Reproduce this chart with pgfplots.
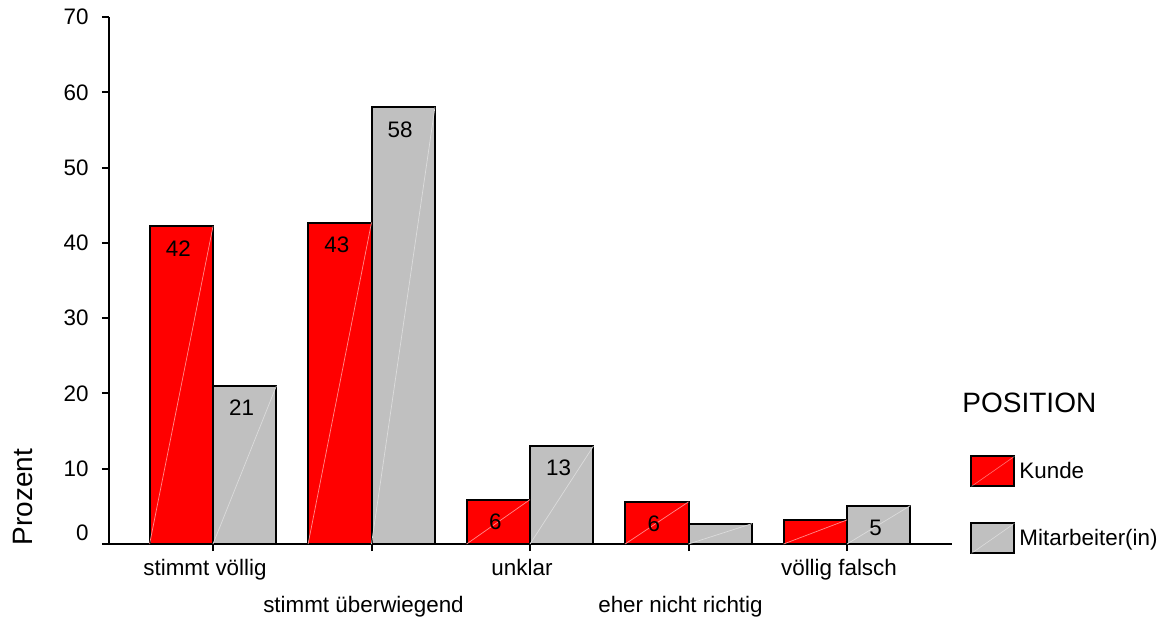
\documentclass[border=0pt]{standalone}
\usepackage{fontspec}
\setmainfont{Liberation Sans}
\usepackage{pgfplots}
\usepackage{pgfplotstable}
\pgfplotsset{compat=1.18}

\definecolor{kunde}{RGB}{255,0,0}
\definecolor{mitarb}{RGB}{192,192,192}

% Prozent je Antwortkategorie (0 = stimmt völlig ... 4 = völlig falsch)
\pgfplotstableread{
x y
0 42.2
1 42.7
2 5.9
3 5.6
4 3.2
}\kunde
\pgfplotstableread{
x y
0 21.0
1 58.0
2 13.0
3 2.7
4 5.1
}\mitarbeiter

\pgfplotsset{
  barlabels/.style={
    visualization depends on=rawy \as \rawy,
    nodes near coords={\pgfmathparse{\rawy>=4 ? 1 : 0}%
      \ifnum\pgfmathresult=1 \pgfmathprintnumber[fixed,precision=0]{\rawy}\fi},
    every node near coord/.append style={anchor=center, yshift=-11pt, xshift=-1.5pt,
      black, font=\fontsize{11.2}{13}\selectfont,
      /pgf/number format/assume math mode=true},
  },
  % faint corner-to-corner line across each bar
  bardiag/.style={forget plot, quiver={u=0.4, v=\thisrow{y}},
    draw=#1, line width=0.35pt},
}

\begin{document}
\begin{tikzpicture}
\useasboundingbox (-54.5pt,-37pt) rectangle (531pt,272pt);
\begin{axis}[
  scale only axis,
  width=421.5pt, height=263.5pt,
  xmin=-0.6562, xmax=4.6625,
  ymin=0, ymax=70,
  ybar, bar width=0.4,
  axis x line=bottom, axis y line=left,
  axis line style={line width=1pt, -},
  every tick/.style={black, line width=1pt},
  tick align=outside,
  major tick length=3.5pt,
  font=\fontsize{11.2}{13}\selectfont,
  /pgf/number format/assume math mode=true,
  ytick={10,20,...,70},
  extra y ticks={0},
  extra y tick style={yticklabel style={yshift=5.5pt}},
  yticklabel style={anchor=east, inner sep=0pt, xshift=-6.5pt},
  xtick={0,2,4},
  xticklabels={stimmt völlig, unklar, völlig falsch},
  extra x ticks={1,3},
  extra x tick labels={stimmt überwiegend, eher nicht richtig},
  extra x tick style={xticklabel style={yshift=-18.5pt}},
  xticklabel style={anchor=base, inner sep=0pt, yshift=-12pt, xshift=-4pt},
  ylabel={Prozent},
  ylabel style={at={(rel axis cs:0,0.089)}, anchor=center, yshift=43pt,
    font=\fontsize{14}{16}\selectfont},
  legend style={at={(rel axis cs:1.0214,0.1689)}, anchor=north west,
    draw=none, fill=none, inner sep=0pt, row sep=17.5pt,
    font=\fontsize{11.2}{13}\selectfont,
    /tikz/every even column/.append style={column sep=3.5pt}},
  legend cell align=left,
  legend image code/.code={%
    \draw[#1, line width=1pt] (0pt,-7.5pt) rectangle (21.5pt,7.5pt);
    \draw[white, opacity=0.35, line width=0.35pt] (0pt,-7.5pt) -- (21.5pt,7.5pt);},
  clip=false,
]
\addplot[bar shift=-0.2, fill=kunde, draw=black, line width=1pt, barlabels]
  table[x=x, y=y] {\kunde};
\addlegendentry{Kunde}
\addplot[bar shift=0.2, fill=mitarb, draw=black, line width=1pt, barlabels]
  table[x=x, y=y] {\mitarbeiter};
\addlegendentry{Mitarbeiter(in)}
\addplot[bardiag={white!55!kunde}]
  table[x expr=\thisrow{x}-0.4, y expr=0] {\kunde};
\addplot[bardiag={white!45!mitarb}]
  table[x expr=\thisrow{x}, y expr=0] {\mitarbeiter};
\node[anchor=west, inner sep=0pt, font=\fontsize{14}{16}\selectfont]
  at (rel axis cs:1.0119,0.2676) {POSITION};
\end{axis}
\end{tikzpicture}
\end{document}
